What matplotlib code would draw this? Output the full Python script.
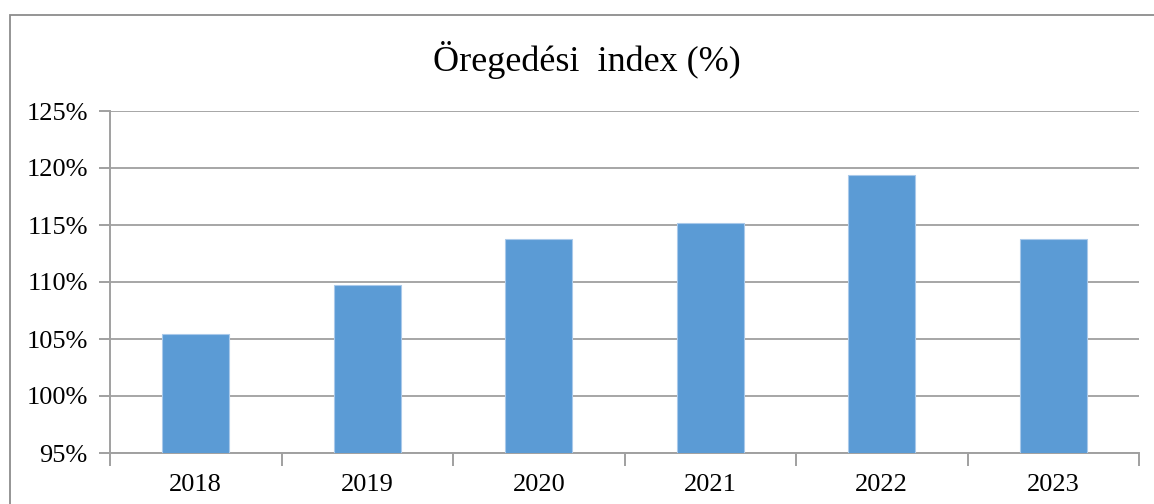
import numpy as np
import matplotlib.pyplot as plt
from matplotlib.patches import Rectangle
from matplotlib.ticker import FuncFormatter, FixedLocator

years = ["2018", "2019", "2020", "2021", "2022", "2023"]
index_values = [105.4, 109.7, 113.8, 115.2, 119.4, 113.8]
title = "Öregedési  index (%)"

plt.rcParams['font.family'] = ['Liberation Serif', 'DejaVu Serif']

W, H = 1154, 504
fig = plt.figure(figsize=(W / 100, H / 100), dpi=100)

# outer chart frame (cut off at right and bottom)
fig.patches.append(Rectangle((9.5 / W, -0.05), 1.2, (H - 15) / H + 0.05,
                             transform=fig.transFigure, fill=False,
                             edgecolor='#8c8c8c', linewidth=1.3))

ax = fig.add_axes([110 / W, (H - 453) / H, (1139 - 110) / W, (453 - 111) / H])
x = np.arange(len(years))
ax.bar(x, index_values, width=0.39, color='#5B9BD5', edgecolor='#a9c9ea',
       linewidth=0.8, zorder=3)

ax.set_ylim(95, 125)
ax.set_xlim(-0.5, len(years) - 0.5)
ax.set_yticks(np.arange(95, 126, 5))
ax.yaxis.set_major_formatter(FuncFormatter(lambda v, p: f"{v:.0f}%"))
ax.set_xticks(x)
ax.set_xticklabels(years)
ax.xaxis.set_minor_locator(FixedLocator(np.arange(-0.5, len(years), 1)))

ax.grid(axis='y', color='#a6a6a6', linewidth=1.4, zorder=0)
for s in ['top', 'right']:
    ax.spines[s].set_visible(False)
for s in ['left', 'bottom']:
    ax.spines[s].set_color('#a0a0a0')
    ax.spines[s].set_linewidth(1.4)

ax.tick_params(axis='y', length=8, width=1.4, color='#a0a0a0', pad=8,
               labelsize=19)
ax.tick_params(axis='x', which='major', length=0, pad=15, labelsize=19)
ax.tick_params(axis='x', which='minor', length=9, width=1.4, color='#a0a0a0')

fig.text(587 / W, (H - 60) / H, title, ha='center', va='center', fontsize=26)

fig.savefig("out.png", dpi=100)
